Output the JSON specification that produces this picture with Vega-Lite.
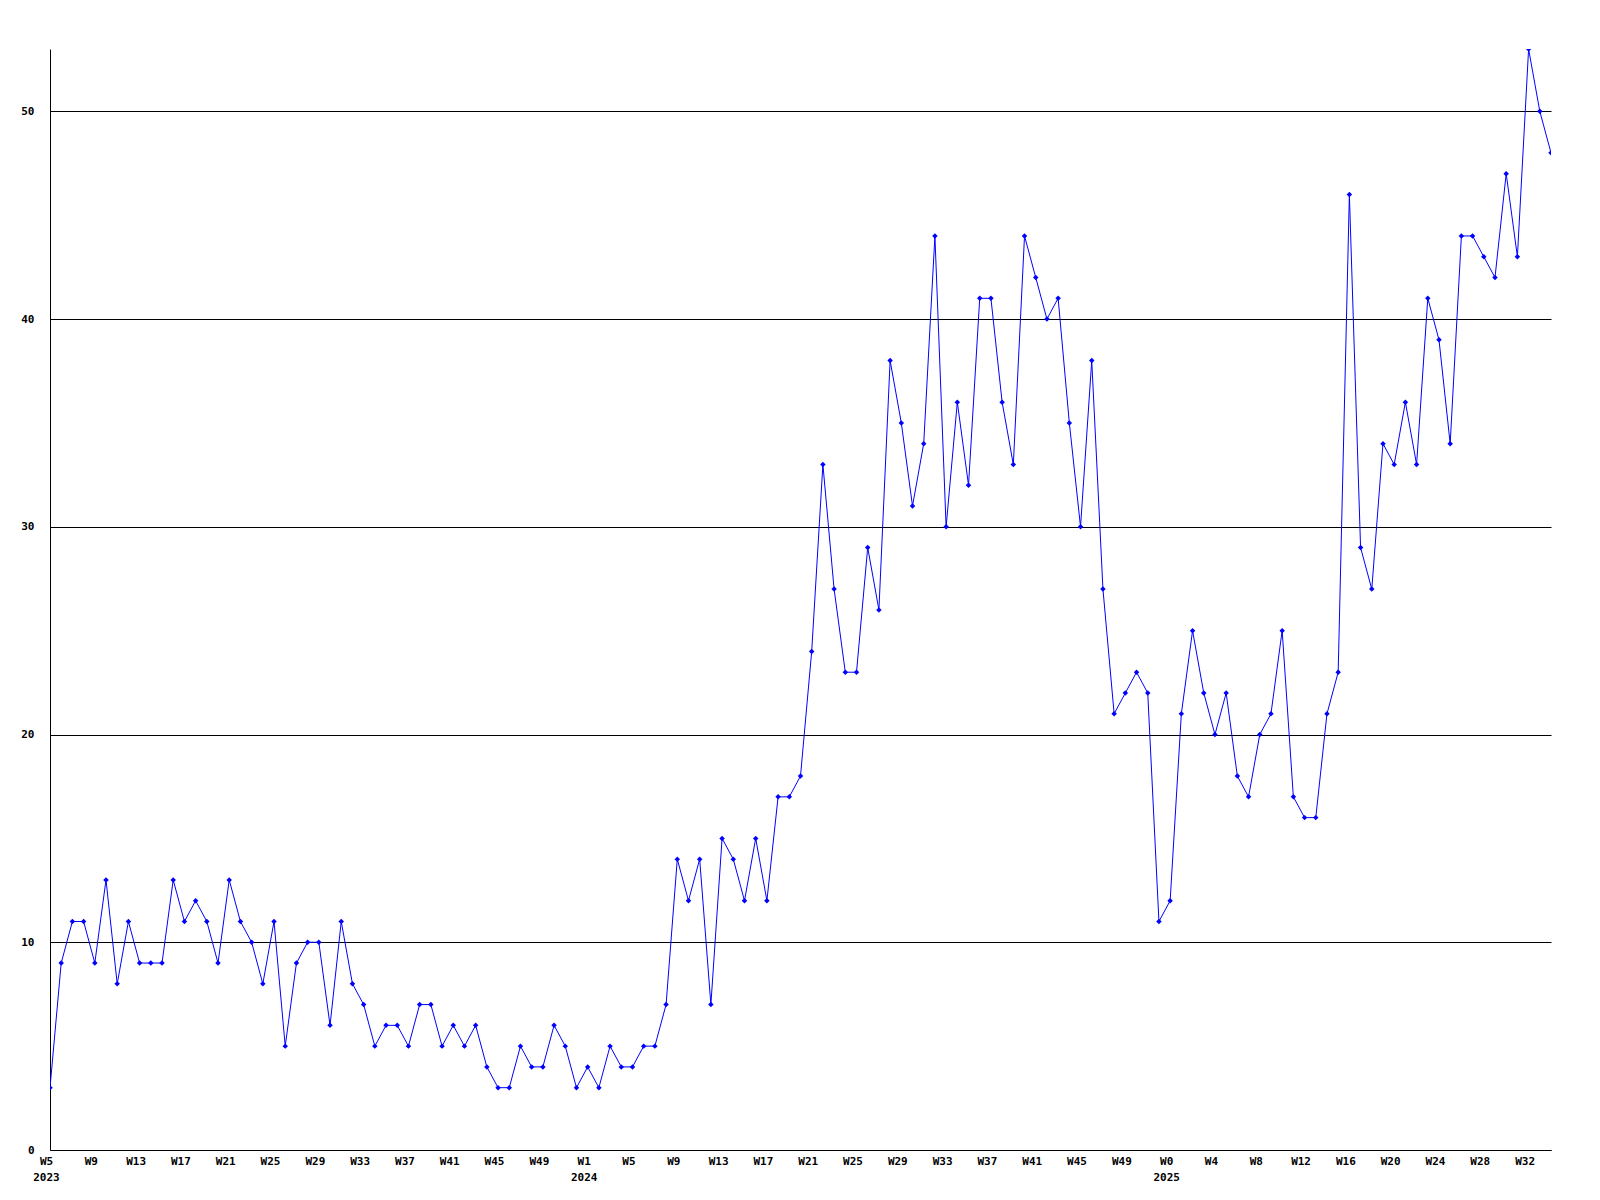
{
  "$schema": "https://vega.github.io/schema/vega-lite/v6.json",
  "width": 1501,
  "height": 1101,
  "autosize": {"type": "none"},
  "padding": {"left": 50, "top": 49, "right": 49, "bottom": 50},
  "background": "white",
  "config": {
    "view": {"stroke": null},
    "axis": {
      "labelFont": "DejaVu Sans Mono",
      "labelFontWeight": "bold",
      "labelFontSize": 11,
      "labelColor": "black",
      "domainColor": "black",
      "domainWidth": 1,
      "ticks": false,
      "title": null
    }
  },
  "data": {
    "values": [
      {"year": 2023, "week": 5, "i": 0, "count": 3},
      {"year": 2023, "week": 6, "i": 1, "count": 9},
      {"year": 2023, "week": 7, "i": 2, "count": 11},
      {"year": 2023, "week": 8, "i": 3, "count": 11},
      {"year": 2023, "week": 9, "i": 4, "count": 9},
      {"year": 2023, "week": 10, "i": 5, "count": 13},
      {"year": 2023, "week": 11, "i": 6, "count": 8},
      {"year": 2023, "week": 12, "i": 7, "count": 11},
      {"year": 2023, "week": 13, "i": 8, "count": 9},
      {"year": 2023, "week": 14, "i": 9, "count": 9},
      {"year": 2023, "week": 15, "i": 10, "count": 9},
      {"year": 2023, "week": 16, "i": 11, "count": 13},
      {"year": 2023, "week": 17, "i": 12, "count": 11},
      {"year": 2023, "week": 18, "i": 13, "count": 12},
      {"year": 2023, "week": 19, "i": 14, "count": 11},
      {"year": 2023, "week": 20, "i": 15, "count": 9},
      {"year": 2023, "week": 21, "i": 16, "count": 13},
      {"year": 2023, "week": 22, "i": 17, "count": 11},
      {"year": 2023, "week": 23, "i": 18, "count": 10},
      {"year": 2023, "week": 24, "i": 19, "count": 8},
      {"year": 2023, "week": 25, "i": 20, "count": 11},
      {"year": 2023, "week": 26, "i": 21, "count": 5},
      {"year": 2023, "week": 27, "i": 22, "count": 9},
      {"year": 2023, "week": 28, "i": 23, "count": 10},
      {"year": 2023, "week": 29, "i": 24, "count": 10},
      {"year": 2023, "week": 30, "i": 25, "count": 6},
      {"year": 2023, "week": 31, "i": 26, "count": 11},
      {"year": 2023, "week": 32, "i": 27, "count": 8},
      {"year": 2023, "week": 33, "i": 28, "count": 7},
      {"year": 2023, "week": 34, "i": 29, "count": 5},
      {"year": 2023, "week": 35, "i": 30, "count": 6},
      {"year": 2023, "week": 36, "i": 31, "count": 6},
      {"year": 2023, "week": 37, "i": 32, "count": 5},
      {"year": 2023, "week": 38, "i": 33, "count": 7},
      {"year": 2023, "week": 39, "i": 34, "count": 7},
      {"year": 2023, "week": 40, "i": 35, "count": 5},
      {"year": 2023, "week": 41, "i": 36, "count": 6},
      {"year": 2023, "week": 42, "i": 37, "count": 5},
      {"year": 2023, "week": 43, "i": 38, "count": 6},
      {"year": 2023, "week": 44, "i": 39, "count": 4},
      {"year": 2023, "week": 45, "i": 40, "count": 3},
      {"year": 2023, "week": 46, "i": 41, "count": 3},
      {"year": 2023, "week": 47, "i": 42, "count": 5},
      {"year": 2023, "week": 48, "i": 43, "count": 4},
      {"year": 2023, "week": 49, "i": 44, "count": 4},
      {"year": 2023, "week": 50, "i": 45, "count": 6},
      {"year": 2023, "week": 51, "i": 46, "count": 5},
      {"year": 2023, "week": 52, "i": 47, "count": 3},
      {"year": 2024, "week": 1, "i": 48, "count": 4},
      {"year": 2024, "week": 2, "i": 49, "count": 3},
      {"year": 2024, "week": 3, "i": 50, "count": 5},
      {"year": 2024, "week": 4, "i": 51, "count": 4},
      {"year": 2024, "week": 5, "i": 52, "count": 4},
      {"year": 2024, "week": 6, "i": 53, "count": 5},
      {"year": 2024, "week": 7, "i": 54, "count": 5},
      {"year": 2024, "week": 8, "i": 55, "count": 7},
      {"year": 2024, "week": 9, "i": 56, "count": 14},
      {"year": 2024, "week": 10, "i": 57, "count": 12},
      {"year": 2024, "week": 11, "i": 58, "count": 14},
      {"year": 2024, "week": 12, "i": 59, "count": 7},
      {"year": 2024, "week": 13, "i": 60, "count": 15},
      {"year": 2024, "week": 14, "i": 61, "count": 14},
      {"year": 2024, "week": 15, "i": 62, "count": 12},
      {"year": 2024, "week": 16, "i": 63, "count": 15},
      {"year": 2024, "week": 17, "i": 64, "count": 12},
      {"year": 2024, "week": 18, "i": 65, "count": 17},
      {"year": 2024, "week": 19, "i": 66, "count": 17},
      {"year": 2024, "week": 20, "i": 67, "count": 18},
      {"year": 2024, "week": 21, "i": 68, "count": 24},
      {"year": 2024, "week": 22, "i": 69, "count": 33},
      {"year": 2024, "week": 23, "i": 70, "count": 27},
      {"year": 2024, "week": 24, "i": 71, "count": 23},
      {"year": 2024, "week": 25, "i": 72, "count": 23},
      {"year": 2024, "week": 26, "i": 73, "count": 29},
      {"year": 2024, "week": 27, "i": 74, "count": 26},
      {"year": 2024, "week": 28, "i": 75, "count": 38},
      {"year": 2024, "week": 29, "i": 76, "count": 35},
      {"year": 2024, "week": 30, "i": 77, "count": 31},
      {"year": 2024, "week": 31, "i": 78, "count": 34},
      {"year": 2024, "week": 32, "i": 79, "count": 44},
      {"year": 2024, "week": 33, "i": 80, "count": 30},
      {"year": 2024, "week": 34, "i": 81, "count": 36},
      {"year": 2024, "week": 35, "i": 82, "count": 32},
      {"year": 2024, "week": 36, "i": 83, "count": 41},
      {"year": 2024, "week": 37, "i": 84, "count": 41},
      {"year": 2024, "week": 38, "i": 85, "count": 36},
      {"year": 2024, "week": 39, "i": 86, "count": 33},
      {"year": 2024, "week": 40, "i": 87, "count": 44},
      {"year": 2024, "week": 41, "i": 88, "count": 42},
      {"year": 2024, "week": 42, "i": 89, "count": 40},
      {"year": 2024, "week": 43, "i": 90, "count": 41},
      {"year": 2024, "week": 44, "i": 91, "count": 35},
      {"year": 2024, "week": 45, "i": 92, "count": 30},
      {"year": 2024, "week": 46, "i": 93, "count": 38},
      {"year": 2024, "week": 47, "i": 94, "count": 27},
      {"year": 2024, "week": 48, "i": 95, "count": 21},
      {"year": 2024, "week": 49, "i": 96, "count": 22},
      {"year": 2024, "week": 50, "i": 97, "count": 23},
      {"year": 2024, "week": 51, "i": 98, "count": 22},
      {"year": 2024, "week": 52, "i": 99, "count": 11},
      {"year": 2025, "week": 0, "i": 100, "count": 12},
      {"year": 2025, "week": 1, "i": 101, "count": 21},
      {"year": 2025, "week": 2, "i": 102, "count": 25},
      {"year": 2025, "week": 3, "i": 103, "count": 22},
      {"year": 2025, "week": 4, "i": 104, "count": 20},
      {"year": 2025, "week": 5, "i": 105, "count": 22},
      {"year": 2025, "week": 6, "i": 106, "count": 18},
      {"year": 2025, "week": 7, "i": 107, "count": 17},
      {"year": 2025, "week": 8, "i": 108, "count": 20},
      {"year": 2025, "week": 9, "i": 109, "count": 21},
      {"year": 2025, "week": 10, "i": 110, "count": 25},
      {"year": 2025, "week": 11, "i": 111, "count": 17},
      {"year": 2025, "week": 12, "i": 112, "count": 16},
      {"year": 2025, "week": 13, "i": 113, "count": 16},
      {"year": 2025, "week": 14, "i": 114, "count": 21},
      {"year": 2025, "week": 15, "i": 115, "count": 23},
      {"year": 2025, "week": 16, "i": 116, "count": 46},
      {"year": 2025, "week": 17, "i": 117, "count": 29},
      {"year": 2025, "week": 18, "i": 118, "count": 27},
      {"year": 2025, "week": 19, "i": 119, "count": 34},
      {"year": 2025, "week": 20, "i": 120, "count": 33},
      {"year": 2025, "week": 21, "i": 121, "count": 36},
      {"year": 2025, "week": 22, "i": 122, "count": 33},
      {"year": 2025, "week": 23, "i": 123, "count": 41},
      {"year": 2025, "week": 24, "i": 124, "count": 39},
      {"year": 2025, "week": 25, "i": 125, "count": 34},
      {"year": 2025, "week": 26, "i": 126, "count": 44},
      {"year": 2025, "week": 27, "i": 127, "count": 44},
      {"year": 2025, "week": 28, "i": 128, "count": 43},
      {"year": 2025, "week": 29, "i": 129, "count": 42},
      {"year": 2025, "week": 30, "i": 130, "count": 47},
      {"year": 2025, "week": 31, "i": 131, "count": 43},
      {"year": 2025, "week": 32, "i": 132, "count": 53},
      {"year": 2025, "week": 33, "i": 133, "count": 50},
      {"year": 2025, "week": 34, "i": 134, "count": 48}
    ]
  },
  "mark": {
    "type": "line",
    "color": "#0000ff",
    "strokeWidth": 1,
    "clip": true,
    "point": {"filled": true, "shape": "diamond", "size": 30, "color": "#0000ff"}
  },
  "encoding": {
    "x": {
      "field": "i",
      "type": "quantitative",
      "scale": {"domain": [0, 134], "nice": false, "zero": false},
      "axis": {
        "values": [0, 4, 8, 12, 16, 20, 24, 28, 32, 36, 40, 44, 48, 52, 56, 60, 64, 68, 72, 76, 80, 84, 88, 92, 96, 100, 104, 108, 112, 116, 120, 124, 128, 132],
        "grid": false,
        "labelPadding": 5,
        "labelOffset": -4,
        "labelLineHeight": 16,
        "labelFlush": false,
        "labelOverlap": false,
        "labelExpr": "datum.value == 0 ? ['W5', '2023'] : datum.value == 48 ? ['W1', '2024'] : datum.value == 100 ? ['W0', '2025'] : datum.value < 48 ? 'W' + (datum.value + 5) : datum.value < 100 ? 'W' + (datum.value - 47) : 'W' + (datum.value - 100)"
      }
    },
    "y": {
      "field": "count",
      "type": "quantitative",
      "scale": {"domain": [0, 53], "nice": false},
      "axis": {
        "values": [0, 10, 20, 30, 40, 50],
        "grid": true,
        "gridColor": "black",
        "gridOpacity": 1,
        "gridWidth": 1,
        "labelPadding": 16,
        "labelAlign": "right",
        "labelBaseline": "middle"
      }
    }
  }
}
